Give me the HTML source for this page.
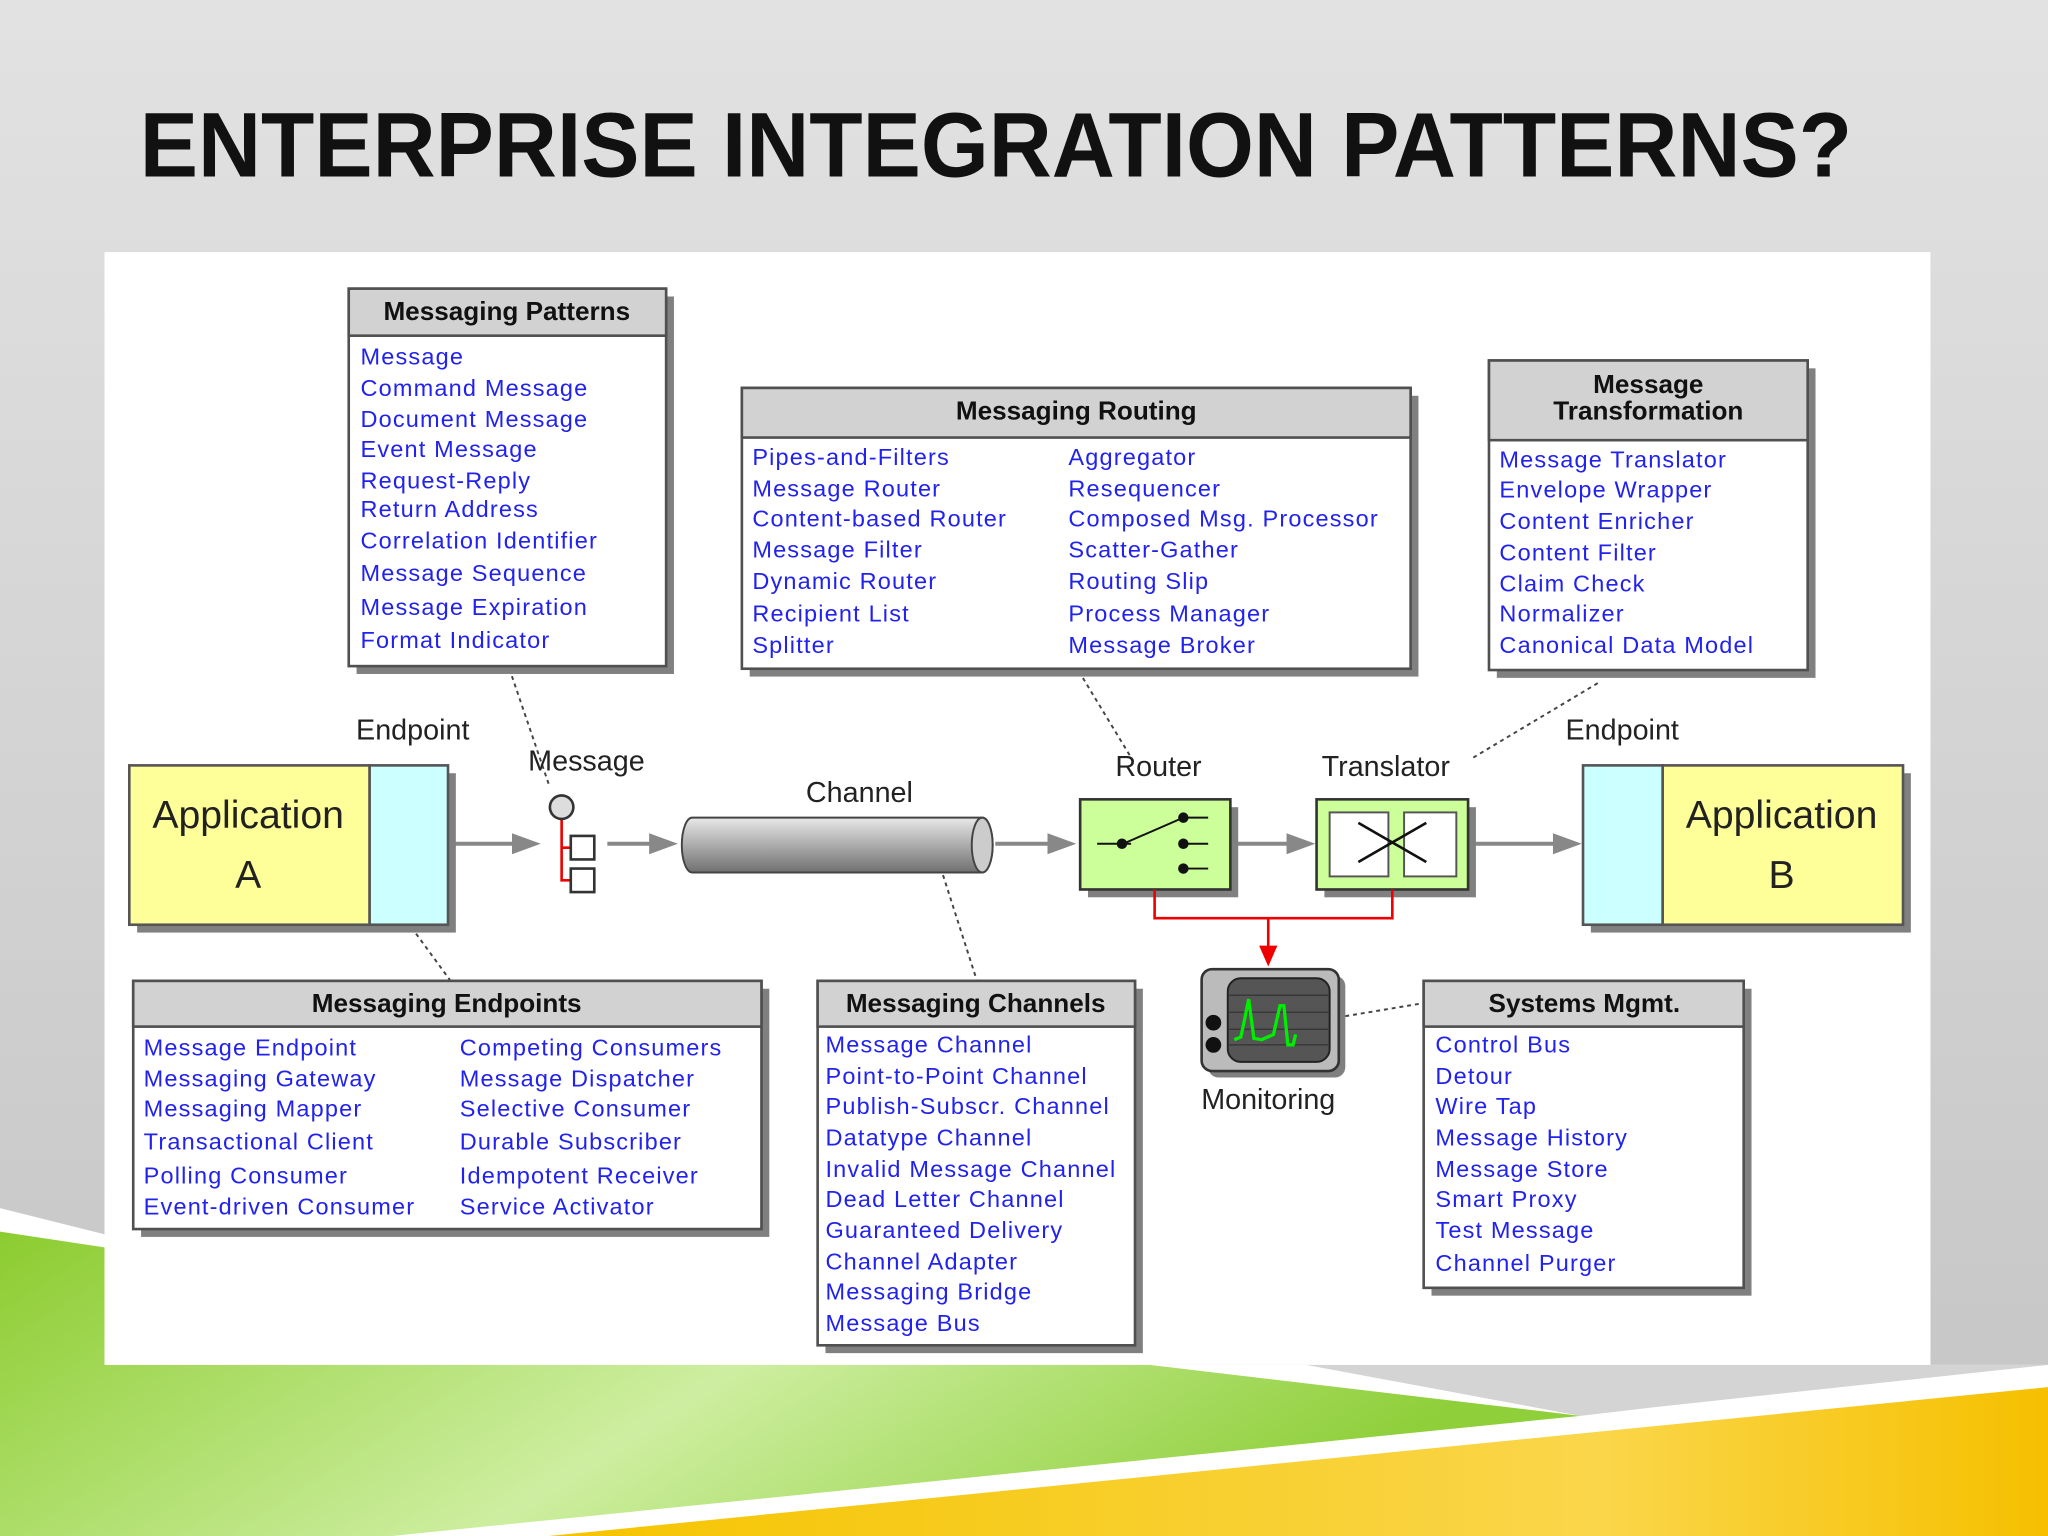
<!DOCTYPE html>
<html><head><meta charset="utf-8"><style>
html,body{margin:0;padding:0;width:2048px;height:1536px;overflow:hidden}
svg{display:block}
.h{font-family:"Liberation Sans",sans-serif;font-weight:bold;font-size:20px;fill:#111;text-anchor:middle}
.i{font-family:"Liberation Sans",sans-serif;font-size:18px;letter-spacing:0.9px;fill:#2222ee}
.l{font-family:"Liberation Sans",sans-serif;font-size:22px;fill:#222;text-anchor:middle}
</style></head><body>
<svg width="2048" height="1536" viewBox="0 0 1568 1176" xmlns="http://www.w3.org/2000/svg">
<defs>
<linearGradient id="bg" x1="0" y1="0" x2="0" y2="1"><stop offset="0" stop-color="#e2e2e2"/><stop offset="1" stop-color="#c4c4c4"/></linearGradient>
<linearGradient id="gr" x1="0" y1="0" x2="1" y2="0.3"><stop offset="0" stop-color="#8ccc30"/><stop offset="0.55" stop-color="#cdeea0"/><stop offset="1" stop-color="#8fcf3a"/></linearGradient>
<linearGradient id="ye" x1="0" y1="0" x2="1" y2="0"><stop offset="0" stop-color="#f5c400"/><stop offset="0.7" stop-color="#fad64a"/><stop offset="1" stop-color="#f6c000"/></linearGradient>
<linearGradient id="cyl" x1="0" y1="0" x2="0" y2="1"><stop offset="0" stop-color="#e8e8e8"/><stop offset="0.4" stop-color="#b8b8b8"/><stop offset="1" stop-color="#707070"/></linearGradient>
</defs>
<rect width="1568" height="1176" fill="url(#bg)"/>
<polygon points="0,925 80,945 80,1045 1568,1045 1568,1176 0,1176" fill="#fff"/>
<polygon points="0,943 80,955 80,1045 880,1045 1210,1084 300,1176 0,1176" fill="url(#gr)"/>
<polygon points="1000,1045 1568,1045 1568,1045 1270,1077 1210,1084" fill="#d4d4d4"/>
<polygon points="420,1176 1568,1062 1568,1176" fill="url(#ye)"/>
<text x="107" y="135" font-family="Liberation Sans,sans-serif" font-size="70" font-weight="bold" fill="#111" textLength="1311" lengthAdjust="spacingAndGlyphs">ENTERPRISE INTEGRATION PATTERNS?</text>
<rect x="80" y="193" width="1398" height="852" fill="#fff"/>

<g stroke="#444" stroke-width="1.5" stroke-dasharray="3,3" fill="none">
<line x1="390" y1="512" x2="420" y2="600"/>
<line x1="315" y1="710" x2="345" y2="751"/>
<line x1="722" y1="670" x2="748" y2="751"/>
<line x1="826" y1="514" x2="866" y2="580"/>
<line x1="1128" y1="580" x2="1225" y2="522"/>
<line x1="1030" y1="778" x2="1090" y2="768"/>
</g>

<g stroke="#505050" stroke-width="2">
<rect x="273" y="227" width="243" height="289" fill="#808080" stroke="none"/>
<rect x="267" y="221" width="243" height="289" fill="#fff"/>
<rect x="267" y="221" width="243" height="36" fill="#d2d2d2"/>
<rect x="574" y="303" width="512" height="215" fill="#808080" stroke="none"/>
<rect x="568" y="297" width="512" height="215" fill="#fff"/>
<rect x="568" y="297" width="512" height="38" fill="#d2d2d2"/>
<rect x="1146" y="282" width="244" height="237" fill="#808080" stroke="none"/>
<rect x="1140" y="276" width="244" height="237" fill="#fff"/>
<rect x="1140" y="276" width="244" height="61" fill="#d2d2d2"/>
<rect x="108" y="757" width="481" height="190" fill="#808080" stroke="none"/>
<rect x="102" y="751" width="481" height="190" fill="#fff"/>
<rect x="102" y="751" width="481" height="35" fill="#d2d2d2"/>
<rect x="632" y="757" width="243" height="279" fill="#808080" stroke="none"/>
<rect x="626" y="751" width="243" height="279" fill="#fff"/>
<rect x="626" y="751" width="243" height="35" fill="#d2d2d2"/>
<rect x="1096" y="757" width="245" height="235" fill="#808080" stroke="none"/>
<rect x="1090" y="751" width="245" height="235" fill="#fff"/>
<rect x="1090" y="751" width="245" height="35" fill="#d2d2d2"/>
</g>
<text class="h" x="388" y="245">Messaging Patterns</text>
<text class="h" x="824" y="321">Messaging Routing</text>
<text class="h" x="1262" y="301">Message</text>
<text class="h" x="1262" y="321">Transformation</text>
<text class="h" x="342" y="775">Messaging Endpoints</text>
<text class="h" x="747" y="775">Messaging Channels</text>
<text class="h" x="1213" y="775">Systems Mgmt.</text>

<g>
<text x="276" y="279" class="i">Message</text>
<text x="276" y="303" class="i">Command Message</text>
<text x="276" y="327" class="i">Document Message</text>
<text x="276" y="350" class="i">Event Message</text>
<text x="276" y="374" class="i">Request-Reply</text>
<text x="276" y="396" class="i">Return Address</text>
<text x="276" y="420" class="i">Correlation Identifier</text>
<text x="276" y="445" class="i">Message Sequence</text>
<text x="276" y="471" class="i">Message Expiration</text>
<text x="276" y="496" class="i">Format Indicator</text>

<text x="576" y="356" class="i">Pipes-and-Filters</text>
<text x="576" y="380" class="i">Message Router</text>
<text x="576" y="403" class="i">Content-based Router</text>
<text x="576" y="427" class="i">Message Filter</text>
<text x="576" y="451" class="i">Dynamic Router</text>
<text x="576" y="476" class="i">Recipient List</text>
<text x="576" y="500" class="i">Splitter</text>
<text x="818" y="356" class="i">Aggregator</text>
<text x="818" y="380" class="i">Resequencer</text>
<text x="818" y="403" class="i">Composed Msg. Processor</text>
<text x="818" y="427" class="i">Scatter-Gather</text>
<text x="818" y="451" class="i">Routing Slip</text>
<text x="818" y="476" class="i">Process Manager</text>
<text x="818" y="500" class="i">Message Broker</text>

<text x="1148" y="358" class="i">Message Translator</text>
<text x="1148" y="381" class="i">Envelope Wrapper</text>
<text x="1148" y="405" class="i">Content Enricher</text>
<text x="1148" y="429" class="i">Content Filter</text>
<text x="1148" y="453" class="i">Claim Check</text>
<text x="1148" y="476" class="i">Normalizer</text>
<text x="1148" y="500" class="i">Canonical Data Model</text>

<text x="110" y="808" class="i">Message Endpoint</text>
<text x="110" y="832" class="i">Messaging Gateway</text>
<text x="110" y="855" class="i">Messaging Mapper</text>
<text x="110" y="880" class="i">Transactional Client</text>
<text x="110" y="906" class="i">Polling Consumer</text>
<text x="110" y="930" class="i">Event-driven Consumer</text>
<text x="352" y="808" class="i">Competing Consumers</text>
<text x="352" y="832" class="i">Message Dispatcher</text>
<text x="352" y="855" class="i">Selective Consumer</text>
<text x="352" y="880" class="i">Durable Subscriber</text>
<text x="352" y="906" class="i">Idempotent Receiver</text>
<text x="352" y="930" class="i">Service Activator</text>

<text x="632" y="806" class="i">Message Channel</text>
<text x="632" y="830" class="i">Point-to-Point Channel</text>
<text x="632" y="853" class="i">Publish-Subscr. Channel</text>
<text x="632" y="877" class="i">Datatype Channel</text>
<text x="632" y="901" class="i">Invalid Message Channel</text>
<text x="632" y="924" class="i">Dead Letter Channel</text>
<text x="632" y="948" class="i">Guaranteed Delivery</text>
<text x="632" y="972" class="i">Channel Adapter</text>
<text x="632" y="995" class="i">Messaging Bridge</text>
<text x="632" y="1019" class="i">Message Bus</text>

<text x="1099" y="806" class="i">Control Bus</text>
<text x="1099" y="830" class="i">Detour</text>
<text x="1099" y="853" class="i">Wire Tap</text>
<text x="1099" y="877" class="i">Message History</text>
<text x="1099" y="901" class="i">Message Store</text>
<text x="1099" y="924" class="i">Smart Proxy</text>
<text x="1099" y="948" class="i">Test Message</text>
<text x="1099" y="973" class="i">Channel Purger</text>
</g>

<g stroke="#888" stroke-width="3">
<line x1="345" y1="646" x2="395" y2="646"/>
<line x1="465" y1="646" x2="500" y2="646"/>
<line x1="762" y1="646" x2="805" y2="646"/>
<line x1="945" y1="646" x2="988" y2="646"/>
<line x1="1126" y1="646" x2="1192" y2="646"/>
</g>
<g fill="#888">
<polygon points="392,638 414,646 392,654"/>
<polygon points="497,638 519,646 497,654"/>
<polygon points="802,638 824,646 802,654"/>
<polygon points="985,638 1007,646 985,654"/>
<polygon points="1189,638 1211,646 1189,654"/>
</g>

<rect x="105" y="592" width="244" height="122" fill="#808080"/>
<rect x="99" y="586" width="184" height="122" fill="#ffff99" stroke="#555" stroke-width="2"/>
<rect x="283" y="586" width="60" height="122" fill="#ccffff" stroke="#555" stroke-width="2"/>
<text class="l" x="190" y="634" style="font-size:30px">Application</text>
<text class="l" x="190" y="680" style="font-size:30px">A</text>
<rect x="1218" y="592" width="245" height="122" fill="#808080"/>
<rect x="1212" y="586" width="61" height="122" fill="#ccffff" stroke="#555" stroke-width="2"/>
<rect x="1273" y="586" width="184" height="122" fill="#ffff99" stroke="#555" stroke-width="2"/>
<text class="l" x="1364" y="634" style="font-size:30px">Application</text>
<text class="l" x="1364" y="680" style="font-size:30px">B</text>

<text class="l" x="316" y="566">Endpoint</text>
<text class="l" x="449" y="590">Message</text>
<text class="l" x="658" y="614">Channel</text>
<text class="l" x="887" y="594">Router</text>
<text class="l" x="1061" y="594">Translator</text>
<text class="l" x="1242" y="566">Endpoint</text>
<text class="l" x="971" y="849">Monitoring</text>

<path d="M430,627 V674 H437 M430,649 H437" stroke="#e00" stroke-width="2" fill="none"/>
<circle cx="430" cy="618" r="9" fill="#ddd" stroke="#333" stroke-width="2"/>
<rect x="437" y="640" width="18" height="18" fill="#fff" stroke="#333" stroke-width="2"/>
<rect x="437" y="665" width="18" height="18" fill="#fff" stroke="#333" stroke-width="2"/>

<path d="M530,626 H752 A8,21 0 0 1 752,668 H530 A8,21 0 0 1 530,626z" fill="url(#cyl)" stroke="#444" stroke-width="1.5"/>
<ellipse cx="752" cy="647" rx="8" ry="21" fill="#ccc" stroke="#444" stroke-width="1.5"/>

<rect x="833" y="618" width="115" height="69" fill="#808080"/>
<rect x="827" y="612" width="115" height="69" fill="#ccff99" stroke="#333" stroke-width="2"/>
<g stroke="#111" stroke-width="1.5"><line x1="840" y1="646" x2="866" y2="646"/><line x1="860" y1="646" x2="906" y2="626"/><line x1="906" y1="626" x2="925" y2="626"/><line x1="906" y1="646" x2="925" y2="646"/><line x1="906" y1="665" x2="925" y2="665"/></g>
<g fill="#111"><circle cx="859" cy="646" r="4"/><circle cx="906" cy="626" r="4"/><circle cx="906" cy="646" r="4"/><circle cx="906" cy="665" r="4"/></g>
<rect x="1014" y="618" width="116" height="69" fill="#808080"/>
<rect x="1008" y="612" width="116" height="69" fill="#ccff99" stroke="#333" stroke-width="2"/>
<rect x="1018" y="622" width="45" height="49" fill="#fff" stroke="#555" stroke-width="1.5"/>
<rect x="1075" y="622" width="40" height="49" fill="#fff" stroke="#555" stroke-width="1.5"/>
<g stroke="#111" stroke-width="2"><line x1="1040" y1="630" x2="1092" y2="660"/><line x1="1040" y1="660" x2="1092" y2="630"/></g>

<path d="M884,681 V703 H1066 V681 M971,703 V726" stroke="#e00" stroke-width="2" fill="none"/>
<polygon points="964,724 978,724 971,740" fill="#e00"/>

<rect x="925" y="747" width="105" height="78" rx="8" fill="#808080"/>
<rect x="920" y="742" width="105" height="78" rx="8" fill="#bbb" stroke="#333" stroke-width="2"/>
<rect x="940" y="749" width="78" height="64" rx="10" fill="#555" stroke="#222" stroke-width="1.5"/>
<g stroke="#333" stroke-width="1"><line x1="941" y1="762" x2="1017" y2="762"/><line x1="941" y1="775" x2="1017" y2="775"/><line x1="941" y1="788" x2="1017" y2="788"/><line x1="941" y1="800" x2="1017" y2="800"/></g>
<path d="M945,796 L950,794 L953,780 L956,765 L960,795 L966,796 L975,792 L980,770 L983,770 L986,800 L990,800 L992,792" stroke="#00ee00" stroke-width="2.5" fill="none"/>
<circle cx="929" cy="783" r="6" fill="#111"/>
<circle cx="929" cy="800" r="6" fill="#111"/>
</svg>
</body></html>
